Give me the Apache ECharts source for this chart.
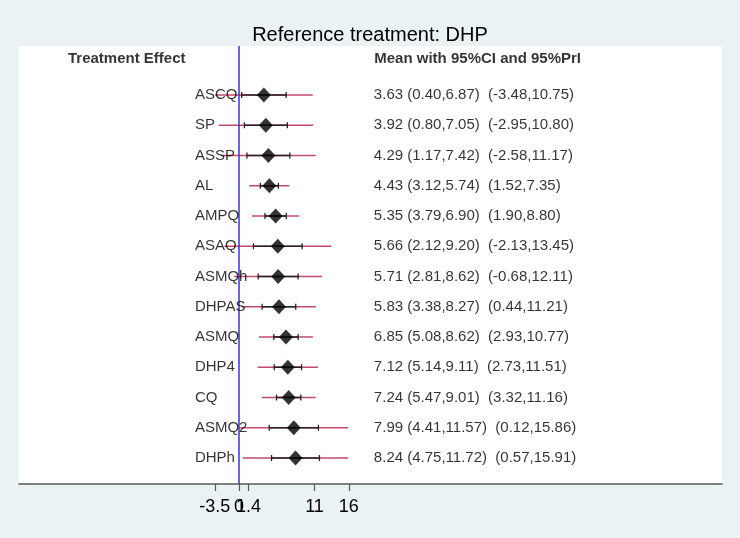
<!DOCTYPE html>
<html>
<head>
<meta charset="utf-8">
<script src="https://cdn.jsdelivr.net/npm/echarts@6/dist/echarts.min.js"></script>
<style>
html,body{margin:0;padding:0;background:#eaf2f3;}
#chart{width:740px;height:538px;}
</style>
</head>
<body>
<div id="chart"></div>
<script>
var treatments = ['ASCQ','SP','ASSP','AL','AMPQ','ASAQ','ASMQh','DHPAS','ASMQ','DHP4','CQ','ASMQ2','DHPh'];
var means = [3.63,3.92,4.29,4.43,5.35,5.66,5.71,5.83,6.85,7.12,7.24,7.99,8.24];
var ciLow = [0.40,0.80,1.17,3.12,3.79,2.12,2.81,3.38,5.08,5.14,5.47,4.41,4.75];
var ciHigh = [6.87,7.05,7.42,5.74,6.90,9.20,8.62,8.27,8.62,9.11,9.01,11.57,11.72];
var priLow = [-3.48,-2.95,-2.58,1.52,1.90,-2.13,-0.68,0.44,2.93,2.73,3.32,0.12,0.57];
var priHigh = [10.75,10.80,11.17,7.35,8.80,13.45,12.11,11.21,10.77,11.51,11.16,15.86,15.91];
var tickValues = [-3.5, 0, 1.4, 11, 16];
var titleText = 'Reference treatment: DHP';
var leftHeader = 'Treatment Effect';
var rightHeader = 'Mean with 95%CI and 95%PrI';

var FONT = 'Liberation Sans, Arial, sans-serif';
var LABEL_X = -6.4, TEXT_X = 19.64, HEAD_LX = -24.87, HEAD_RX = 19.7, HEAD_Y = -0.19;

function f2(v){ return v.toFixed(2); }
var rows = treatments.map(function(t,i){ return i+1; });

var priData = treatments.map(function(t,i){ return [priLow[i], priHigh[i], rows[i]]; });
var ciData = treatments.map(function(t,i){ return [ciLow[i], ciHigh[i], rows[i]]; });
var meanData = treatments.map(function(t,i){ return [means[i], rows[i]]; });
var leftLabels = treatments.map(function(t,i){ return {value:[LABEL_X, rows[i]], name:t}; });
var rightLabels = treatments.map(function(t,i){
  return {value:[TEXT_X, rows[i]], name: f2(means[i]) + ' (' + f2(ciLow[i]) + ',' + f2(ciHigh[i]) + ')  (' + f2(priLow[i]) + ',' + f2(priHigh[i]) + ')'};
});

var chart = echarts.init(document.getElementById('chart'), null, {renderer:'canvas'});
chart.setOption({
  backgroundColor:'#eaf2f3',
  animation:false,
  title:{text:titleText, left:'center', top:20, textStyle:{fontFamily:FONT, fontSize:20, fontWeight:'normal', color:'#000'}},
  grid:{left:19, right:18, top:46, bottom:54, show:true, backgroundColor:'#ffffff', borderWidth:0},
  xAxis:{type:'value', min:-32, max:70.3, splitLine:{show:false},
    axisLine:{show:true, onZero:false, lineStyle:{color:'#5a5a5a', width:1.6}},
    axisTick:{show:true, customValues:tickValues, length:7, lineStyle:{color:'#5a5a5a', width:1.2}},
    axisLabel:{show:true, customValues:tickValues, margin:14, fontFamily:FONT, fontSize:18, color:'#000',
      formatter:function(v){ return String(v); }}
  },
  yAxis:{type:'value', inverse:true, min:-0.62, max:13.86, show:false},
  series:[
    {type:'custom', renderItem:function(params, api){
        var a = api.coord([api.value(0), api.value(2)]);
        var b = api.coord([api.value(1), api.value(2)]);
        return {type:'line', shape:{x1:a[0], y1:a[1], x2:b[0], y2:b[1]}, style:{stroke:'#c24a6c', lineWidth:1.6}};
      }, data:priData, encode:{x:[0,1], y:2}, z:2,
      markLine:{silent:true, symbol:'none', label:{show:false}, lineStyle:{color:'#3434d6', width:1.5, type:'solid'}, data:[{xAxis:0}]}
    },
    {type:'custom', renderItem:function(params, api){
        var a = api.coord([api.value(0), api.value(2)]);
        var b = api.coord([api.value(1), api.value(2)]);
        return {type:'group', children:[
          {type:'line', shape:{x1:a[0], y1:a[1], x2:b[0], y2:b[1]}, style:{stroke:'#222', lineWidth:1.6}},
          {type:'line', shape:{x1:a[0], y1:a[1]-3, x2:a[0], y2:a[1]+3}, style:{stroke:'#222', lineWidth:1.3}},
          {type:'line', shape:{x1:b[0], y1:b[1]-3, x2:b[0], y2:b[1]+3}, style:{stroke:'#222', lineWidth:1.3}}
        ]};
      }, data:ciData, encode:{x:[0,1], y:2}, z:3
    },
    {type:'scatter', data:meanData, symbol:'diamond', symbolSize:[14,15], itemStyle:{color:'#000'}, z:4},
    {type:'scatter', data:leftLabels, symbolSize:0, z:5,
      label:{show:true, position:'right', distance:0, formatter:'{b}', fontFamily:FONT, fontSize:15, color:'#000'}},
    {type:'scatter', data:rightLabels, symbolSize:0, z:5,
      label:{show:true, position:'right', distance:0, formatter:'{b}', fontFamily:FONT, fontSize:15, color:'#000'}},
    {type:'scatter', data:[{value:[HEAD_LX, HEAD_Y], name:leftHeader},{value:[HEAD_RX, HEAD_Y], name:rightHeader}], symbolSize:0, z:5,
      label:{show:true, position:'right', distance:0, formatter:'{b}', fontFamily:FONT, fontSize:15, fontWeight:'bold', color:'#000'}}
  ]
});
</script>
</body>
</html>
